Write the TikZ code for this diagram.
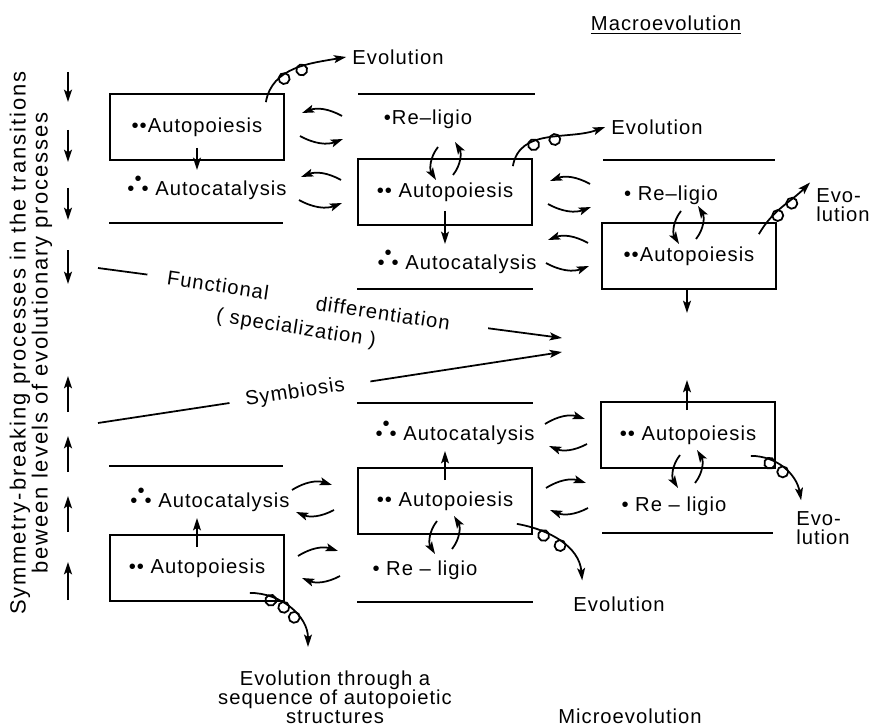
\documentclass[tikz,border=0pt]{standalone}
\usepackage{fontspec}
\setmainfont{Liberation Sans}[LetterSpace=5]
\usepackage{tikz}
\usetikzlibrary{arrows.meta, positioning}
\newcommand{\twodots}{\textbullet\textbullet}
\newcommand{\tridots}{\textbullet\raisebox{0.5em}{\textbullet}\textbullet}
\tikzset{
  box/.style={rectangle, draw, line width=1pt, minimum width=3.48cm,
    minimum height=1.32cm, inner sep=0pt},
  arrow/.style={-{Stealth[length=7pt, width=4.5pt, inset=1.5pt]}, line width=1pt},
  line/.style={line width=1pt},
  sidetext/.style={rotate=90, align=center,
    font=\fontsize{12.5}{12.5}\selectfont\addfontfeature{LetterSpace=9}},
  curl/.pic={\draw[line] (0,-0.07cm) circle[radius=0.11cm];},
  swapccw/.pic={
    \draw[arrow] (21,-9) to[bend right=25] (-19,-12);
    \draw[arrow] (-21,11) to[bend right=25] (22,14);
  },
  swapcw/.pic={
    \draw[arrow] (-22,-9) to[bend left=25] (18,-14);
    \draw[arrow] (20,11) to[bend left=25] (-18,13);
  },
  swapvert/.pic={
    \draw[arrow] (-8,-14) to[bend right=35] (-10,19);
    \draw[arrow] (7,14) to[bend right=35] (9,-19);
  }
}

\begin{document}
\begin{tikzpicture}[x=0.02cm, y=-0.02cm, font=\fontsize{11.5}{13}\selectfont]
  \useasboundingbox (0,0) rectangle (882,726);

  % upper half: macroevolution
  \node[box] (apA) at (197,127) {\twodots Autopoiesis\hspace{1.15cm}};
  \node (acA) at (207,188) {\tridots\ Autocatalysis};
  \node (rlB) at (428,119) {\textbullet Re--ligio};
  \node[box] (apB) at (445,192) {\twodots\ Autopoiesis};
  \node (acB) at (457,262) {\tridots\ Autocatalysis};
  \node (rlC) at (671,195) {\textbullet\ Re--ligio};
  \node[box] (apC) at (689,256) {\twodots Autopoiesis};
  \coordinate (downC) at (687,313);

  % lower half: microevolution
  \node[box] (apD) at (197,568) {\twodots\ Autopoiesis};
  \node (acD) at (210,500) {\tridots\ Autocatalysis};
  \node[box] (apE) at (445,501) {\twodots\ Autopoiesis};
  \node (acE) at (455,433) {\tridots\ Autocatalysis};
  \node (rlE) at (425,570) {\textbullet\ Re -- ligio};
  \node[box] (apF) at (688,435) {\twodots\ Autopoiesis};
  \node (rlF) at (674,506) {\textbullet\ Re -- ligio};
  \coordinate (upF) at (687,380);

  % level lines
  \draw[line] (109,223) -- (283,223);
  \draw[line] (358,94) -- (535,94);
  \draw[line] (357,289) -- (533,289);
  \draw[line] (603,160) -- (775,160);
  \draw[line] (109,466) -- (283,466);
  \draw[line] (357,403) -- (533,403);
  \draw[line] (357,602) -- (533,602);
  \draw[line] (602,533) -- (773,533);

  % vertical steps
  \draw[arrow] ([yshift=0.26cm]apA.south) -- (apA.south |- acA.north);
  \draw[arrow] ([yshift=0.3cm]apB.south) -- (apB.south |- acB.north);
  \draw[arrow] (apC.south -| downC) -- (downC);
  \draw[arrow] ([yshift=-0.26cm]apD.north) -- (apD.north |- acD.south);
  \draw[arrow] ([yshift=-0.26cm]apE.north) -- (apE.north |- acE.south);
  \draw[arrow] ([yshift=-0.18cm]apF.north -| upF) -- (upF);

  % exchanges
  \pic at (321,125) {swapccw};
  \pic at (320,189) {swapccw};
  \pic at (569,193) {swapccw};
  \pic at (567,252) {swapccw};
  \pic at (314,499) {swapcw};
  \pic at (320,565) {swapcw};
  \pic at (567,433) {swapcw};
  \pic at (568,497) {swapcw};
  \pic at (446,161) {swapvert};
  \pic at (689,225) {swapvert};
  \pic at (445,535) {swapvert};
  \pic at (688,469) {swapvert};

  % evolution
  \node (evA) at (398,57) {Evolution};
  \node (evB) at (657,127) {Evolution};
  \node[align=left, font=\fontsize{11.5}{10.5}\selectfont] (evC) at (843,205) {Evo-\\lution};
  \node[align=center, font=\fontsize{11.5}{10.8}\selectfont] (evD) at (335,697) {Evolution through a\\sequence of autopoietic\\structures};
  \node (evE) at (619,604) {Evolution};
  \node[align=left, font=\fontsize{11.5}{10.8}\selectfont] (evF) at (823,528) {Evo-\\lution};
  \draw[arrow] ([xshift=-0.38cm, yshift=-0.18cm]apA.north east) to[out=80, in=190]
    pic[pos=0.34, sloped] {curl} pic[pos=0.56, sloped] {curl} (evA.west);
  \draw[arrow] ([xshift=-0.4cm, yshift=-0.16cm]apB.north east) to[out=80, in=200]
    pic[pos=0.34, sloped] {curl} pic[pos=0.56, sloped] {curl} (evB.west);
  \draw[arrow] ([xshift=-0.36cm, yshift=-0.24cm]apC.north east) to[out=60, in=225]
    pic[pos=0.36, sloped] {curl} pic[pos=0.64, sloped] {curl} (evC.north west);
  \draw[arrow] ([xshift=-0.7cm, yshift=0.18cm]apD.south east) to[out=0, in=90]
    pic[pos=0.25, sloped] {curl} pic[pos=0.43, sloped] {curl} pic[pos=0.61, sloped] {curl}
    ([xshift=-0.54cm, yshift=0.35cm]evD.north);
  \draw[arrow] ([xshift=-0.32cm, yshift=0.22cm]apE.south east) to[out=-10, in=95]
    pic[pos=0.3, sloped] {curl} pic[pos=0.52, sloped] {curl}
    ([xshift=0.3cm, yshift=0.2cm]evE.north west);
  \draw[arrow] ([xshift=-0.5cm, yshift=0.26cm]apF.south east) to[out=0, in=100]
    pic[pos=0.28, sloped] {curl} pic[pos=0.52, sloped] {curl}
    ([xshift=0.22cm, yshift=0.1cm]evF.north west);

  % functional differentiation and symbiosis
  \coordinate (fstart) at (98,268);
  \coordinate (fend) at (562,338);
  \coordinate (sstart) at (98,423);
  \coordinate (send) at (562,352);
  \node[rotate=-8.6] (functional) at (218,285) {Functional};
  \node[rotate=-8.6] (differentiation) at (383,313) {differentiation};
  \node[rotate=-9] (specialization) at (296,329) {( specialization )};
  \node[rotate=8.7] (symbiosis) at (295,393) {Symbiosis};
  \draw[line, shorten >=0.28cm] (fstart) -- (functional.west);
  \draw[arrow, shorten <=0.65cm] (differentiation.east) -- (fend);
  \draw[line, shorten >=0.2cm] (sstart) -- (symbiosis.west);
  \draw[arrow, shorten <=0.4cm] (symbiosis.east) -- (send);

  % side arrows and titles
  \draw[arrow] (68,72) -- (68,102);
  \draw[arrow] (68,130) -- (68,162);
  \draw[arrow] (68,188) -- (68,220);
  \draw[arrow] (68,250) -- (68,284);
  \draw[arrow] (68,412) -- (68,376);
  \draw[arrow] (68,472) -- (68,436);
  \draw[arrow] (68,532) -- (68,496);
  \draw[arrow] (68,600) -- (68,562);
  \node[sidetext] (side) at (31,343) {Symmetry-breaking processes in the transitions\\beween levels of evolutionary processes};
  \node (macro) at (666,25) {\underline{Macroevolution}};
  \node (micro) at (630,716) {Microevolution};
\end{tikzpicture}
\end{document}
